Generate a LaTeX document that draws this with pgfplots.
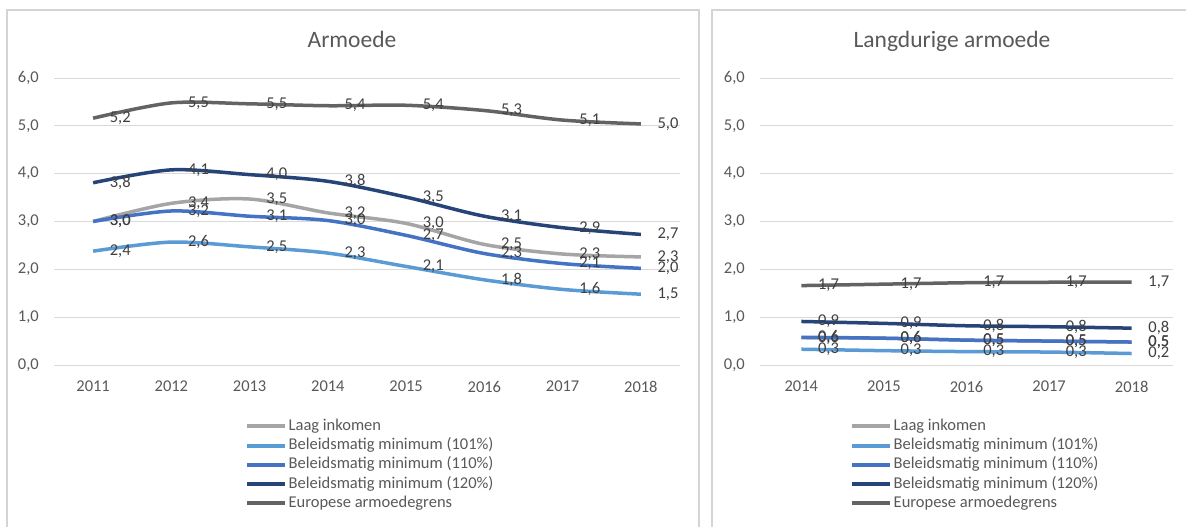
\documentclass[border=0pt]{standalone}
\usepackage{pgfplots}
\pgfplotsset{compat=1.18}
\usepackage{fontspec}
\setmainfont{Carlito}

\definecolor{laag}{HTML}{A5A5A5}
\definecolor{bm101}{HTML}{5B9BD5}
\definecolor{bm110}{HTML}{4472C4}
\definecolor{bm120}{HTML}{264478}
\definecolor{eur}{HTML}{636363}
\definecolor{txt}{HTML}{595959}
\definecolor{lbl}{HTML}{404040}
\definecolor{gridc}{HTML}{D9D9D9}
\definecolor{framec}{HTML}{D4D4D4}

\newcommand\fs{\fontsize{16.5bp}{19bp}\selectfont}
\newcommand\tfs{\fontsize{23.5bp}{28bp}\selectfont}

\pgfplotsset{
  arm/.style={
    scale only axis, height=287bp,
    ymin=0, ymax=6, ytick={0,1,2,3,4,5,6},
    axis line style={draw=none}, major tick length=0pt,
    ymajorgrids, major grid style={gridc, line width=1bp},
    tick label style={font=\fs, text=txt, inner sep=0pt},
    yticklabel shift=15bp, xticklabel shift=16bp,
    yticklabel style={/pgf/number format/fixed, /pgf/number format/fixed zerofill,
      /pgf/number format/precision=1, /pgf/number format/use comma,
      /pgf/number format/assume math mode=true},
    every axis plot/.append style={line width=3.5bp, smooth, tension=0.5, mark=none, line join=round},
    nodes near coords,
    every node near coord/.append style={font=\fs, text=lbl, anchor=west, inner sep=0pt, xshift=15bp,
      /pgf/number format/fixed, /pgf/number format/fixed zerofill,
      /pgf/number format/precision=1, /pgf/number format/use comma,
      /pgf/number format/assume math mode=true},
    clip=false,
    legend style={draw=none, fill=none, font=\fs, text=txt, anchor=north west,
      cells={anchor=west}, column sep=0pt, row sep=0pt,
      nodes={inner sep=1.5bp, text height=12.25bp, text depth=4bp}},
    legend cell align=left,
    legend image code/.code={\draw[#1, line width=4bp] (0bp,0bp) -- (38bp,0bp);},
  }
}

\begin{document}
\begin{tikzpicture}
\useasboundingbox (0,0) rectangle (1186bp,527bp);
\fill[white] (0,0) rectangle (1186bp,527bp);

% panel frames
\draw[framec, line width=1.3bp] (7bp,-5bp) -- (7bp,517bp) -- (699bp,517bp) -- (699bp,-5bp);
\draw[framec, line width=1.3bp] (712bp,-5bp) -- (712bp,517bp) -- (1195bp,517bp);

\node[font=\tfs, text=txt, anchor=base] at (352bp,479bp) {Armoede};
\node[font=\tfs, text=txt, anchor=base] at (952bp,479bp) {Langdurige armoede};

% Armoede
\begin{axis}[arm, at={(54bp,162bp)}, anchor=south west, width=626bp,
    xmin=2010.5, xmax=2018.5,
    xtick={2011,2012,2013,2014,2015,2016,2017,2018},
    xticklabels={2011,2012,2013,2014,2015,2016,2017,2018},
    legend style={at={(0.3003,-0.1725)}}]
\addplot[laag] coordinates {(2011,3.00) (2012,3.38) (2013,3.47) (2014,3.18) (2015,2.96) (2016,2.52) (2017,2.32) (2018,2.26)};
\addplot[bm101] coordinates {(2011,2.38) (2012,2.57) (2013,2.47) (2014,2.34) (2015,2.06) (2016,1.78) (2017,1.58) (2018,1.48)};
\addplot[bm110] coordinates {(2011,3.00) (2012,3.22) (2013,3.11) (2014,3.02) (2015,2.71) (2016,2.33) (2017,2.12) (2018,2.02)};
\addplot[bm120] coordinates {(2011,3.81) (2012,4.08) (2013,3.98) (2014,3.84) (2015,3.51) (2016,3.11) (2017,2.87) (2018,2.73)};
\addplot[eur] coordinates {(2011,5.16) (2012,5.48) (2013,5.46) (2014,5.42) (2015,5.43) (2016,5.32) (2017,5.12) (2018,5.04)};
\legend{Laag inkomen, Beleidsmatig minimum (101\%), Beleidsmatig minimum (110\%), Beleidsmatig minimum (120\%), Europese armoedegrens}
\end{axis}

% Langdurige armoede
\begin{axis}[arm, at={(760bp,162bp)}, anchor=south west, width=413bp,
    xmin=2013.5, xmax=2018.5,
    xtick={2014,2015,2016,2017,2018},
    xticklabels={2014,2015,2016,2017,2018},
    legend style={at={(0.2107,-0.1725)}}]
\addplot[laag] coordinates {(2014,0.57) (2015,0.56) (2016,0.52) (2017,0.50) (2018,0.48)};
\addplot[bm101] coordinates {(2014,0.33) (2015,0.30) (2016,0.28) (2017,0.27) (2018,0.24)};
\addplot[bm110] coordinates {(2014,0.58) (2015,0.56) (2016,0.52) (2017,0.50) (2018,0.48)};
\addplot[bm120] coordinates {(2014,0.91) (2015,0.87) (2016,0.82) (2017,0.80) (2018,0.77)};
\addplot[eur] coordinates {(2014,1.66) (2015,1.69) (2016,1.72) (2017,1.73) (2018,1.73)};
\legend{Laag inkomen, Beleidsmatig minimum (101\%), Beleidsmatig minimum (110\%), Beleidsmatig minimum (120\%), Europese armoedegrens}
\end{axis}
\end{tikzpicture}
\end{document}
